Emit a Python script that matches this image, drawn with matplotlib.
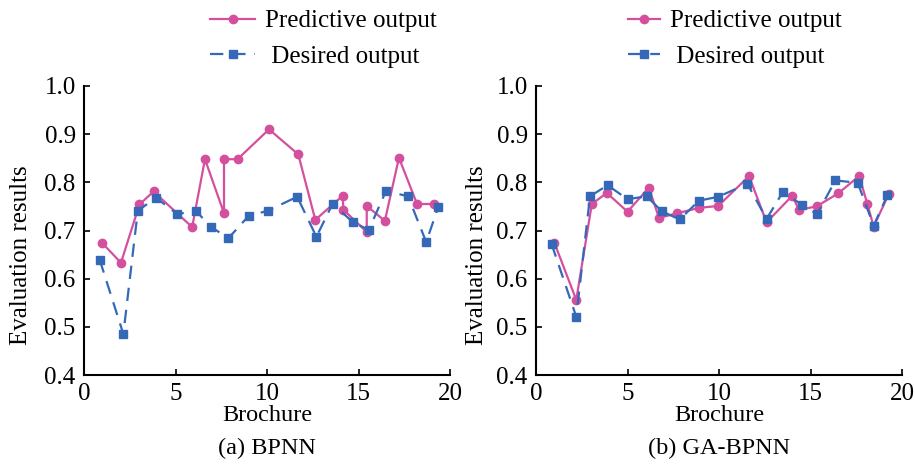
import matplotlib
matplotlib.use("Agg")
import matplotlib.pyplot as plt

plt.rcParams['font.family'] = ['Liberation Serif', 'DejaVu Serif']

# (a) BPNN
bp_pred_x = [0.97, 2.02, 3.03, 3.80, 5.91, 6.61, 7.65, 7.65, 8.39, 10.11, 11.71,
             12.64, 14.13, 14.18, 15.45, 15.45, 16.44, 17.21, 18.2, 19.13]
bp_pred_y = [0.675, 0.633, 0.754, 0.781, 0.707, 0.848, 0.736, 0.848, 0.848, 0.910, 0.858,
             0.722, 0.772, 0.743, 0.697, 0.751, 0.720, 0.851, 0.755, 0.755]
bp_des_x = [0.86, 2.15, 2.94, 3.94, 5.10, 6.11, 6.92, 7.89, 8.99, 10.04, 11.65,
            12.7, 13.58, 14.68, 15.56, 16.5, 17.71, 18.7, 19.36]
bp_des_y = [0.639, 0.485, 0.741, 0.768, 0.734, 0.741, 0.708, 0.684, 0.730, 0.741, 0.770,
            0.687, 0.755, 0.718, 0.701, 0.782, 0.771, 0.676, 0.749]

# (b) GA-BPNN
ga_pred_x = [1.0, 2.2, 3.05, 3.87, 5.0, 6.17, 6.72, 7.73, 8.91, 9.96, 11.64,
             12.6, 14.0, 14.37, 15.33, 16.51, 17.66, 18.1, 18.45, 19.27]
ga_pred_y = [0.675, 0.556, 0.755, 0.778, 0.739, 0.789, 0.726, 0.736, 0.747, 0.751, 0.813,
             0.717, 0.772, 0.743, 0.750, 0.777, 0.813, 0.756, 0.708, 0.775]
ga_des_x = [0.85, 2.2, 2.95, 3.91, 5.0, 6.05, 6.87, 7.85, 8.91, 9.96, 11.55,
            12.6, 13.49, 14.55, 15.36, 16.36, 17.58, 18.45, 19.2]
ga_des_y = [0.672, 0.521, 0.771, 0.794, 0.765, 0.771, 0.740, 0.723, 0.762, 0.770, 0.797,
            0.724, 0.780, 0.753, 0.734, 0.804, 0.799, 0.710, 0.773]

xticks = [0, 5, 10, 15, 20]
yticks = [0.4, 0.5, 0.6, 0.7, 0.8, 0.9, 1.0]

pink = '#D4509F'
blue = '#3569B8'

fig = plt.figure(figsize=(9.15, 4.68), dpi=100)
W, H = 915.0, 468.0

# axes left edge, data, caption, legend x, handle length, ylabel x (px)
panels = [
    (84, bp_pred_x, bp_pred_y, bp_des_x, bp_des_y, '(a) BPNN', 210, 45, 32),
    (536, ga_pred_x, ga_pred_y, ga_des_x, ga_des_y, '(b) GA-BPNN', 628, 32, 488),
]

for left, px, py, dx, dy, caption, leg_x, hl, ylab_x in panels:
    ax = fig.add_axes([left / W, 1 - 375 / H, 366 / W, (375 - 86) / H])
    lp, = ax.plot(px, py, '-o', color=pink, lw=1.6, ms=6, zorder=3,
                  label='Predictive output')
    ld, = ax.plot(dx, dy, '--s', color=blue, lw=1.6, ms=5.5, dashes=(6, 4),
                  zorder=4, label=' Desired output')
    ax.set_xlim(0, 20)
    ax.set_ylim(0.4, 1.0)
    ax.set_xticks(xticks)
    ax.set_yticks(yticks)
    ax.set_yticklabels(['%.1f' % v for v in yticks])
    ax.spines['top'].set_visible(False)
    ax.spines['right'].set_visible(False)
    ax.spines['left'].set_linewidth(1.5)
    ax.spines['bottom'].set_linewidth(1.5)
    ax.tick_params(direction='in', length=4, width=1.2, labelsize=18, pad=6)
    ax.set_xlabel('Brochure', fontsize=17.5, labelpad=0)
    ax.set_ylabel('Evaluation results', fontsize=18)
    ax.yaxis.set_label_coords((ylab_x - left) / 366.0, 0.415)
    ax.text(0.5, (375 - 448) / 289.0, caption, transform=ax.transAxes,
            ha='center', va='center', fontsize=17.5)
    fig.legend(handles=[lp, ld], loc='upper left',
               bbox_to_anchor=(leg_x / W, 1 - 10 / H), frameon=False,
               fontsize=18, handlelength=hl / 25.0, handletextpad=0.4,
               labelspacing=0.5, borderpad=0, borderaxespad=0)

fig.savefig('out.png', dpi=100)
